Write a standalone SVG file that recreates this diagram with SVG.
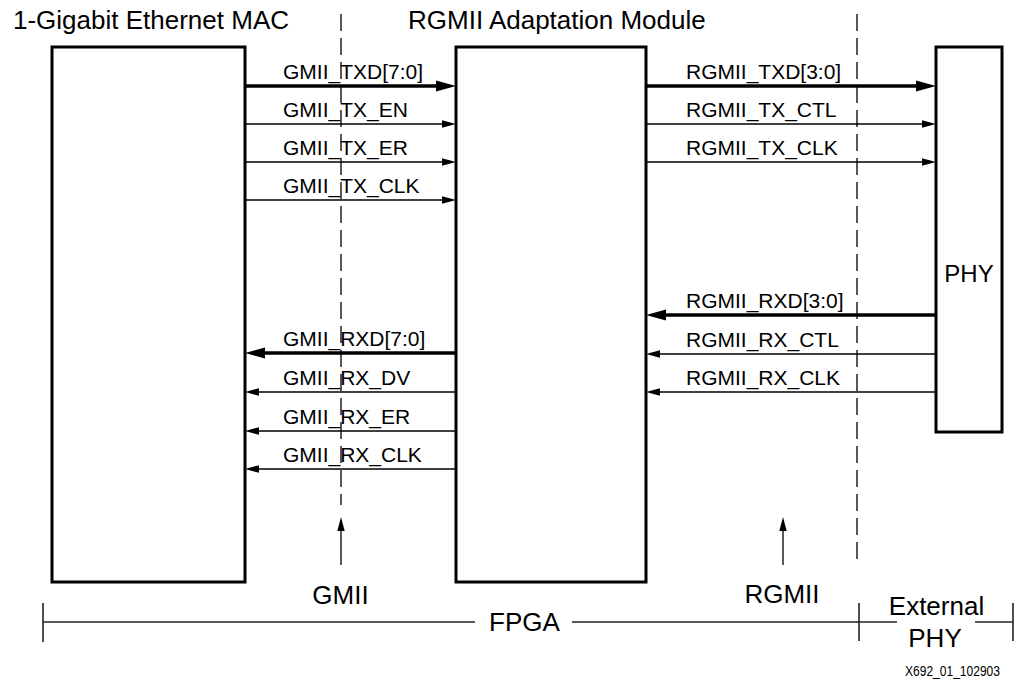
<svg xmlns="http://www.w3.org/2000/svg" width="1015" height="683" viewBox="0 0 1015 683">
<style>
text{font-family:"Liberation Sans",Arial,Helvetica,sans-serif;fill:#000}
.title{font-size:26px}
.lbl{font-size:21px}
.big{font-size:26px}
.box{fill:#fff;stroke:#000;stroke-width:3}
.thick{stroke:#000;stroke-width:3.5;fill:none}
.thin{stroke:#000;stroke-width:1.3;fill:none}
.dash{stroke:#000;stroke-width:1.3;stroke-dasharray:17 7;fill:none}
.scale{stroke:#222;stroke-width:1.6;fill:none}
</style>
<defs>
<marker id="ahT" markerUnits="userSpaceOnUse" markerWidth="21" markerHeight="12" refX="0" refY="6" orient="auto"><path d="M0,0.5 L20,6 L0,11.5 z" fill="#000"/></marker>
<marker id="ahS" markerUnits="userSpaceOnUse" markerWidth="15" markerHeight="9" refX="0" refY="4.5" orient="auto"><path d="M0,0.8 L14,4.5 L0,8.2 z" fill="#000"/></marker>
</defs>
<rect width="1015" height="683" fill="#fff"/>

<g id="dashed-lines">
<line class="dash" x1="341" y1="14" x2="341" y2="505"/>
<line class="dash" x1="857" y1="14" x2="857" y2="565"/>
</g>

<g id="mac">
<rect class="box" x="52" y="47" width="193" height="535"/>
<text class="title" x="13" y="29">1-Gigabit Ethernet MAC</text>
</g>
<g id="adapter">
<rect class="box" x="456" y="47" width="190" height="535"/>
<text class="title" x="408" y="29">RGMII Adaptation Module</text>
</g>
<g id="phy">
<rect class="box" x="936" y="47" width="66" height="385"/>
<text x="969" y="282" text-anchor="middle" style="font-size:24px">PHY</text>
</g>

<g id="connectors">
<line class="thick" x1="246" y1="86" x2="436" y2="86" marker-end="url(#ahT)"/>
<line class="thin" x1="246" y1="124" x2="442" y2="124" marker-end="url(#ahS)"/>
<line class="thin" x1="246" y1="162" x2="442" y2="162" marker-end="url(#ahS)"/>
<line class="thin" x1="246" y1="200" x2="442" y2="200" marker-end="url(#ahS)"/>

<line class="thick" x1="455" y1="353" x2="265" y2="353" marker-end="url(#ahT)"/>
<line class="thin" x1="455" y1="392" x2="259" y2="392" marker-end="url(#ahS)"/>
<line class="thin" x1="455" y1="431" x2="259" y2="431" marker-end="url(#ahS)"/>
<line class="thin" x1="455" y1="469" x2="259" y2="469" marker-end="url(#ahS)"/>

<line class="thick" x1="647" y1="86" x2="916" y2="86" marker-end="url(#ahT)"/>
<line class="thin" x1="647" y1="124" x2="922" y2="124" marker-end="url(#ahS)"/>
<line class="thin" x1="647" y1="162" x2="922" y2="162" marker-end="url(#ahS)"/>

<line class="thick" x1="935" y1="315" x2="666" y2="315" marker-end="url(#ahT)"/>
<line class="thin" x1="935" y1="354" x2="660" y2="354" marker-end="url(#ahS)"/>
<line class="thin" x1="935" y1="392" x2="660" y2="392" marker-end="url(#ahS)"/>

<line class="thin" x1="341" y1="565" x2="341" y2="531" marker-end="url(#ahS)"/>
<line class="thin" x1="783" y1="565" x2="783" y2="531" marker-end="url(#ahS)"/>
</g>

<g id="signal-labels">
<text class="lbl" x="283" y="79">GMII_TXD[7:0]</text>
<text class="lbl" x="283" y="117">GMII_TX_EN</text>
<text class="lbl" x="283" y="155">GMII_TX_ER</text>
<text class="lbl" x="283" y="193">GMII_TX_CLK</text>
<text class="lbl" x="283" y="346">GMII_RXD[7:0]</text>
<text class="lbl" x="283" y="385">GMII_RX_DV</text>
<text class="lbl" x="283" y="424">GMII_RX_ER</text>
<text class="lbl" x="283" y="462">GMII_RX_CLK</text>
<text class="lbl" x="686" y="79">RGMII_TXD[3:0]</text>
<text class="lbl" x="686" y="117">RGMII_TX_CTL</text>
<text class="lbl" x="686" y="155">RGMII_TX_CLK</text>
<text class="lbl" x="686" y="308">RGMII_RXD[3:0]</text>
<text class="lbl" x="686" y="347">RGMII_RX_CTL</text>
<text class="lbl" x="686" y="385">RGMII_RX_CLK</text>
</g>

<g id="scale-bar">
<line class="scale" x1="43" y1="603" x2="43" y2="642"/>
<line class="scale" x1="43" y1="622" x2="475" y2="622"/>
<line class="scale" x1="572" y1="622" x2="897" y2="622"/>
<line class="scale" x1="859" y1="603" x2="859" y2="641"/>
<line class="scale" x1="975" y1="622" x2="1013" y2="622"/>
<line class="scale" x1="1013" y1="603" x2="1013" y2="641"/>
<text class="big" x="340.5" y="604" text-anchor="middle">GMII</text>
<text class="big" x="782" y="603" text-anchor="middle">RGMII</text>
<text class="big" x="524.5" y="631" text-anchor="middle">FPGA</text>
<text class="big" x="936.5" y="615" text-anchor="middle">External</text>
<text class="big" x="935" y="647" text-anchor="middle">PHY</text>
</g>

<text x="1000" y="676" text-anchor="end" style="font-size:14px" textLength="95" lengthAdjust="spacingAndGlyphs">X692_01_102903</text>
</svg>
